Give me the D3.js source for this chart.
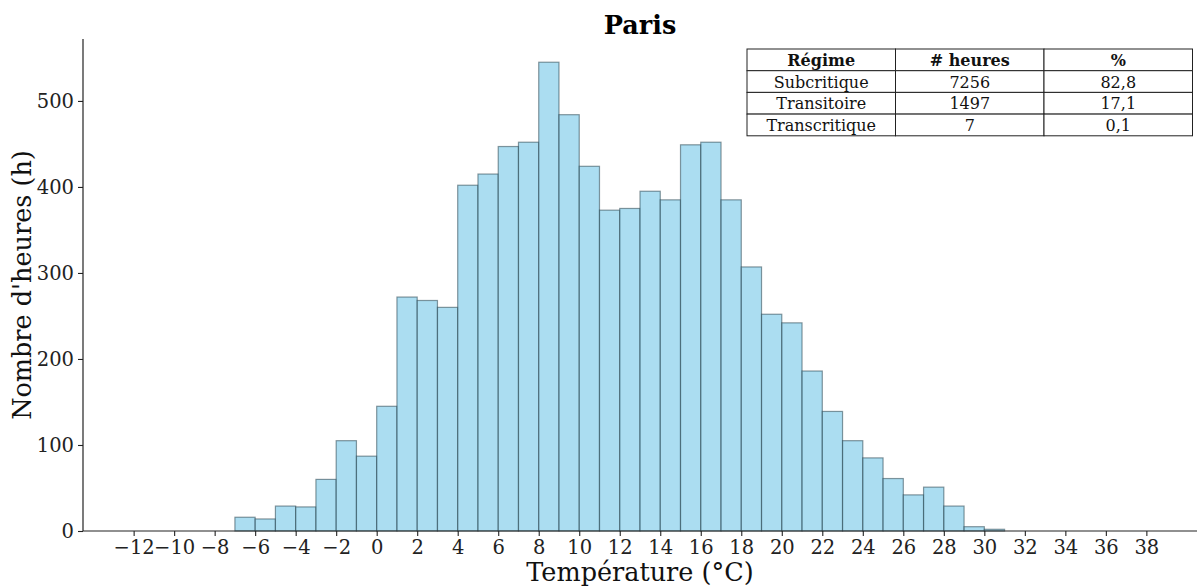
<!DOCTYPE html>
<html lang="fr">
<head>
<meta charset="UTF-8">
<title>Paris</title>
<style>
body {
    margin: 0;
    background-color: #fff;
    font-family: "DejaVu Serif", serif;
}
</style>
</head>
<body>
<div id="plot"></div>
<script src="https://cdn.jsdelivr.net/npm/d3@7"></script>
<script>

const w = 1199,
      h = 587;

// histogram bins (lower bound of each 1 °C bin) and hour counts
const binStarts = [-7, -6, -5, -4, -3, -2, -1, 0, 1, 2, 3, 4, 5, 6, 7, 8, 9, 10, 11, 12,
                   13, 14, 15, 16, 17, 18, 19, 20, 21, 22, 23, 24, 25, 26, 27, 28, 29, 30];
const hours = [16, 14, 29, 28, 60, 105, 87, 145, 272, 268, 260, 402, 415, 447, 452, 545, 484, 424, 373, 375,
               395, 385, 449, 452, 385, 307, 252, 242, 186, 139, 105, 85, 61, 42, 51, 29, 5, 2];

const xTicks = d3.range(-12, 40, 2);
const yTicks = [0, 100, 200, 300, 400, 500];

// summary table
const tableHeader = ["Régime", "# heures", "%"];
const regimes = ["Subcritique", "Transitoire", "Transcritique"];
const regimeHours = ["7256", "1497", "7"];
const regimePct = ["82,8", "17,1", "0,1"];

const margin = {top: 39, right: 2, bottom: 56, left: 83};

const svg = d3.select("#plot").append("svg")
    .attr("width", w)
    .attr("height", h);

const x = d3.scaleLinear()
    .domain([-14.5, 40.5])
    .range([margin.left, w - margin.right]);

const y = d3.scaleLinear()
    .domain([0, 572])
    .range([h - margin.bottom, margin.top]);

// bars
svg.selectAll(".bar")
    .data(binStarts)
    .join("rect")
    .attr("class", "bar")
    .attr("x", d => x(d))
    .attr("width", d => x(d + 1) - x(d))
    .attr("y", (d, i) => y(hours[i]))
    .attr("height", (d, i) => y(0) - y(hours[i]))
    .attr("fill", "#87ceeb")
    .attr("fill-opacity", 0.7)
    .attr("stroke", "#1c3540")
    .attr("stroke-opacity", 0.5)
    .attr("stroke-width", 1.2);

// axes
const xAxis = svg.append("g")
    .attr("transform", `translate(0,${y(0)})`)
    .call(d3.axisBottom(x).tickValues(xTicks).tickSize(5).tickPadding(4)
        .tickFormat(d => d < 0 ? "\u2212" + Math.abs(d) : d));

const yAxis = svg.append("g")
    .attr("transform", `translate(${margin.left},0)`)
    .call(d3.axisLeft(y).tickValues(yTicks).tickSize(5).tickPadding(4));

[xAxis, yAxis].forEach(g => {
    g.select(".domain").attr("stroke", "#222").attr("stroke-width", 1.2);
    g.selectAll(".tick line").attr("stroke", "#222").attr("stroke-width", 1.1);
    g.selectAll("text")
        .attr("fill", "#222")
        .style("font-family", "'DejaVu Serif', serif")
        .style("font-size", "19.5px");
});
xAxis.select(".domain").attr("d", `M${x.range()[0]},0H${x.range()[1]}`);
yAxis.select(".domain").attr("d", `M0,${y.range()[0]}V${y.range()[1]}`);

// labels
svg.append("text")
    .attr("x", (margin.left + w - margin.right) / 2)
    .attr("y", 34)
    .attr("text-anchor", "middle")
    .style("font-size", "25.5px")
    .style("font-weight", "bold")
    .text("Paris");

svg.append("text")
    .attr("x", (margin.left + w - margin.right) / 2)
    .attr("y", 581)
    .attr("text-anchor", "middle")
    .style("font-size", "25.5px")
    .attr("fill", "#111")
    .text("Température (°C)");

svg.append("text")
    .attr("transform", `translate(31,${(margin.top + h - margin.bottom) / 2}) rotate(-90)`)
    .attr("text-anchor", "middle")
    .style("font-size", "25.5px")
    .attr("fill", "#111")
    .text("Nombre d'heures (h)");

// table
const rows = [tableHeader].concat(regimes.map((r, i) => [r, regimeHours[i], regimePct[i]]));
const tX = 747, tY = 49, colW = 148.5, rowH = 21.7;
const table = svg.append("g");

rows.forEach((row, ri) => {
    row.forEach((cell, ci) => {
        table.append("rect")
            .attr("x", tX + ci * colW)
            .attr("y", tY + ri * rowH)
            .attr("width", colW)
            .attr("height", rowH)
            .attr("fill", "#fff")
            .attr("stroke", "#222")
            .attr("stroke-width", 1);
        table.append("text")
            .attr("x", tX + ci * colW + colW / 2)
            .attr("y", tY + ri * rowH + rowH / 2 + 6)
            .attr("text-anchor", "middle")
            .style("font-size", "16px")
            .style("font-weight", ri === 0 ? "bold" : "normal")
            .attr("fill", "#111")
            .text(cell);
    });
});
</script>
</body>
</html>
